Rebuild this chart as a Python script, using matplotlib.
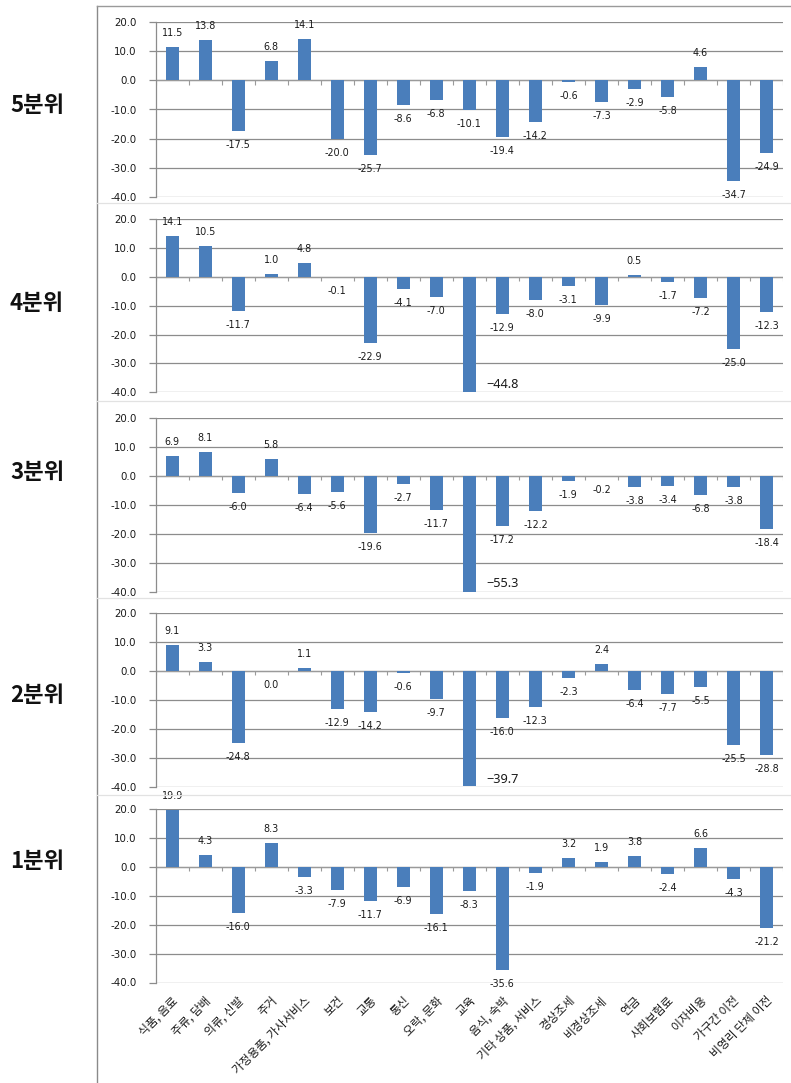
import matplotlib
matplotlib.use("Agg")
import matplotlib.pyplot as plt
from matplotlib.lines import Line2D
import numpy as np

plt.rcParams['font.family'] = ['Noto Sans CJK KR', 'DejaVu Sans']
NUM_FONT = ['DejaVu Sans']
BIG_FONT = ['Noto Sans', 'DejaVu Sans']

categories = ["식품, 음료", "주류, 담배", "의류, 신발", "주거", "가정용품, 가사서비스",
              "보건", "교통", "통신", "오락, 문화", "교육", "음식, 숙박",
              "기타 상품, 서비스", "경상조세", "비경상조세", "연금", "사회보험료",
              "이자비용", "가구간 이전", "비영리 단체 이전"]

panel_names = ["5분위", "4분위", "3분위", "2분위", "1분위"]

q5 = [11.5, 13.8, -17.5, 6.8, 14.1, -20.0, -25.7, -8.6, -6.8, -10.1, -19.4, -14.2,
      -0.6, -7.3, -2.9, -5.8, 4.6, -34.7, -24.9]
q4 = [14.1, 10.5, -11.7, 1.0, 4.8, -0.1, -22.9, -4.1, -7.0, -44.8, -12.9, -8.0,
      -3.1, -9.9, 0.5, -1.7, -7.2, -25.0, -12.3]
q3 = [6.9, 8.1, -6.0, 5.8, -6.4, -5.6, -19.6, -2.7, -11.7, -55.3, -17.2, -12.2,
      -1.9, -0.2, -3.8, -3.4, -6.8, -3.8, -18.4]
q2 = [9.1, 3.3, -24.8, 0.0, 1.1, -12.9, -14.2, -0.6, -9.7, -39.7, -16.0, -12.3,
      -2.3, 2.4, -6.4, -7.7, -5.5, -25.5, -28.8]
q1 = [19.9, 4.3, -16.0, 8.3, -3.3, -7.9, -11.7, -6.9, -16.1, -8.3, -35.6, -1.9,
      3.2, 1.9, 3.8, -2.4, 6.6, -4.3, -21.2]

series = [q5, q4, q3, q2, q1]
y_ticks = [20, 10, 0, -10, -20, -30, -40]
y_min, y_max = -40, 20

W, H = 791, 1083
fig = plt.figure(figsize=(W / 100, H / 100), dpi=100)

BAR = "#4a7ebb"
GRID = "#8c8c8c"
TXT = "#1a1a1a"

# vertical extents (pixels from top) of each plot area: (top of 20.0, bottom of -40.0)
rows = [(22.3, 196.7), (219.0, 392.3), (417.7, 591.7), (613.3, 787.3), (809.3, 982.5)]
label_y = [105, 303, 472, 695, 861]
x_left, x_right = 155.7, 783.0

n = len(categories)
x = np.arange(n)

# outer frame lines and light separators between the stacked charts
fig.add_artist(Line2D([97 / W, 97 / W], [0, 1 - 6 / H], color="#8a8a8a", lw=1.0))
fig.add_artist(Line2D([97 / W, 1], [1 - 6 / H, 1 - 6 / H], color="#9a9a9a", lw=1.0))
for ys in [203, 401, 598, 795]:
    fig.add_artist(Line2D([97 / W, 1], [1 - ys / H, 1 - ys / H], color="#e2e2e2", lw=0.9))

for k, (vals, (top, bot)) in enumerate(zip(series, rows)):
    ax = fig.add_axes([x_left / W, 1 - bot / H, (x_right - x_left) / W, (bot - top) / H])
    ax.set_xlim(-0.5, n - 0.5)
    ax.set_ylim(y_min, y_max)
    ax.set_facecolor("none")
    for s in ["top", "right", "bottom"]:
        ax.spines[s].set_visible(False)
    ax.spines["left"].set_color(GRID)
    ax.spines["left"].set_linewidth(0.9)

    ax.set_yticks(y_ticks)
    ax.set_yticklabels([f"{t:.1f}" for t in y_ticks], fontsize=7.4, color=TXT,
                       family=NUM_FONT)
    ax.tick_params(axis="y", length=5, width=0.9, color=GRID, pad=9)
    ax.set_xticks([])
    for t in y_ticks:
        ax.axhline(t, color=GRID, lw=0.9, zorder=1)

    # category axis at zero with short tick marks between categories
    ax.axhline(0, color="#9a9a9a", lw=0.9, zorder=2)
    ax.vlines(np.arange(-0.5, n, 1.0), -1.4, 0, color="#9a9a9a", lw=0.8, zorder=2)

    ax.bar(x, vals, width=0.4, color=BAR, zorder=3)

    for i, v in enumerate(vals):
        if v < y_min + 1:
            # bar reaches the floor of the axis: value written beside it
            ax.annotate(f"\u2212{abs(v):.1f}", xy=(i, y_min), xytext=(17, 8),
                        textcoords="offset pixels", ha="left", va="center",
                        fontsize=9.2, color=TXT, family=BIG_FONT,
                        annotation_clip=False)
        else:
            off = 14 if v > 0 else -14
            ax.annotate(f"{v:.1f}", xy=(i, v), xytext=(0, off),
                        textcoords="offset pixels", ha="center", va="center",
                        fontsize=6.9, color=TXT, family=NUM_FONT,
                        annotation_clip=False)

    fig.text(37 / W, 1 - label_y[k] / H, panel_names[k], ha="center", va="center",
             fontsize=16, fontweight="bold", color="#111111")

    if k == len(series) - 1:
        for i, c in enumerate(categories):
            ax.annotate(c, xy=(i, y_min), xytext=(4, -16), textcoords="offset pixels",
                        ha="right", va="center", rotation=45, rotation_mode="anchor",
                        fontsize=8.5, color=TXT, annotation_clip=False)

fig.savefig("out.png", dpi=100)
